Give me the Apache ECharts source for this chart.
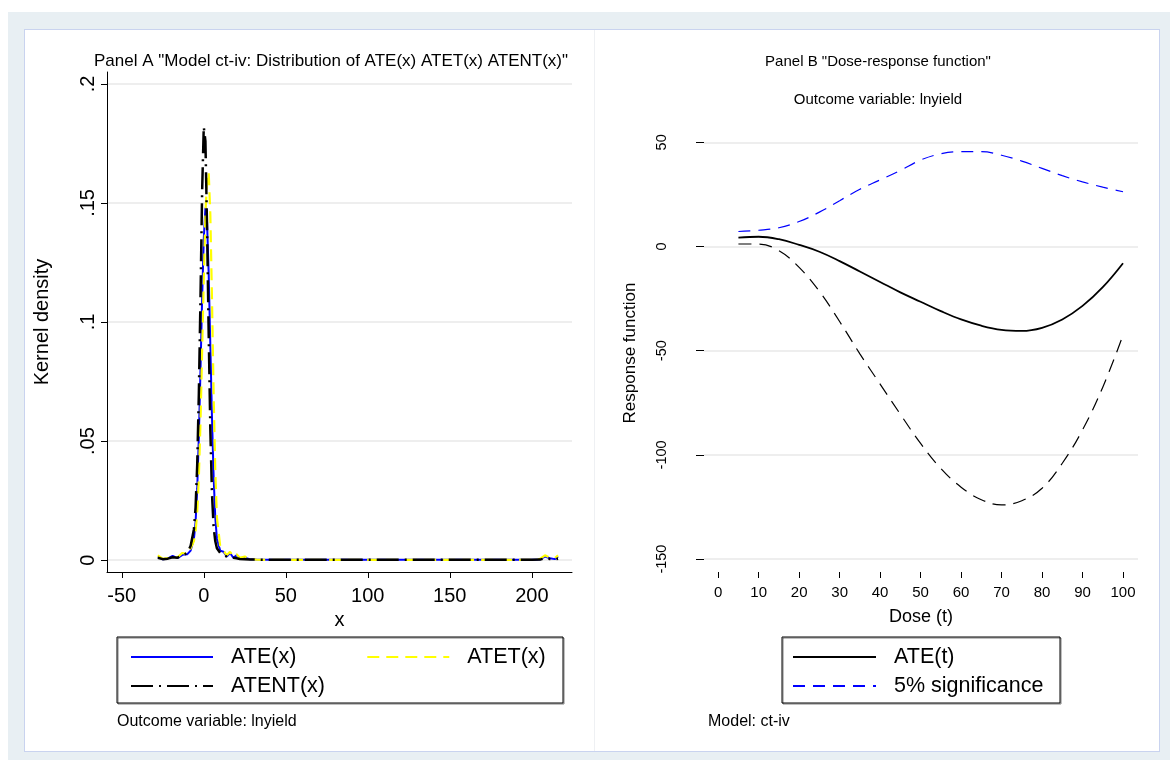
<!DOCTYPE html>
<html>
<head>
<meta charset="utf-8">
<script src="https://cdn.jsdelivr.net/npm/echarts@6/dist/echarts.min.js"></script>
<style>
  body { margin: 0; background: #ffffff; }
  #outer { position: absolute; left: 8px; top: 12px; width: 1162px; height: 748px; background: #e8eff3; }
  #panel { position: absolute; left: 24px; top: 29px; width: 1134px; height: 721px; background: #ffffff; border: 1px solid #c9d3ef; }
  #divider { position: absolute; left: 594px; top: 30px; width: 1px; height: 721px; background: #eef0f3; }
  #main { position: absolute; left: 0; top: 0; width: 1170px; height: 760px; }
</style>
</head>
<body>
<div id="outer"></div>
<div id="panel"></div>
<div id="divider"></div>
<div id="main"></div>
<script>
// Panel A: kernel densities
var densX = [-28, -25, -22, -19, -16, -13, -10, -8, -6, -5, -4, -3, -2, -1, 0, 1, 2, 3, 4, 5, 6, 7, 8, 10, 12, 14, 16, 18, 20, 22, 25, 28, 32, 40, 60, 80, 100, 120, 140, 160, 180, 200, 205, 208, 211, 214, 216];
var ateDens = [0.0015, 0.0003, 0.0006, 0.0018, 0.0008, 0.0022, 0.0025, 0.004, 0.009, 0.016, 0.03, 0.052, 0.08, 0.11, 0.135, 0.148, 0.142, 0.12, 0.09, 0.06, 0.035, 0.018, 0.009, 0.004, 0.0035, 0.0015, 0.003, 0.001, 0.002, 0.0008, 0.001, 0.0004, 0.0002, 0.0001, 0.0001, 0.0001, 0.0001, 0.0001, 0.0001, 0.0001, 0.0001, 0.0001, 0.0003, 0.0015, 0.0008, 0.0004, 0.0015];
var atetDens = [0.002, 0.0005, 0.0008, 0.001, 0.0012, 0.003, 0.0025, 0.005, 0.008, 0.012, 0.02, 0.035, 0.058, 0.088, 0.118, 0.145, 0.16, 0.163, 0.145, 0.11, 0.07, 0.038, 0.018, 0.006, 0.004, 0.002, 0.0035, 0.0015, 0.0025, 0.001, 0.0015, 0.0005, 0.0002, 0.0001, 0.0001, 0.0001, 0.0001, 0.0001, 0.0001, 0.0001, 0.0001, 0.0001, 0.0005, 0.002, 0.001, 0.0008, 0.002];
var atentDens = [0.001, 0.0004, 0.0006, 0.0012, 0.001, 0.002, 0.003, 0.006, 0.013, 0.022, 0.04, 0.07, 0.11, 0.155, 0.182, 0.176, 0.14, 0.095, 0.055, 0.028, 0.014, 0.008, 0.005, 0.003, 0.002, 0.0015, 0.001, 0.001, 0.0008, 0.0005, 0.0004, 0.0003, 0.0002, 0.0001, 0.0001, 0.0001, 0.0001, 0.0001, 0.0001, 0.0001, 0.0001, 0.0001, 0.0002, 0.0008, 0.0005, 0.0003, 0.0006];
var densTicksX = [-50, 0, 50, 100, 150, 200];
var densTicksY = [0, 0.05, 0.1, 0.15, 0.2];

// Panel B: dose-response function
var dose = [5, 10, 15, 20, 25, 30, 35, 40, 45, 50, 55, 60, 65, 70, 75, 80, 85, 90, 95, 100];
var ateT = [4.3, 4.7, 3.5, 0.8, -2.5, -7, -12, -17, -22, -26.5, -31, -35, -38, -40, -40.5, -39, -35, -28.5, -19.5, -8];
var upperT = [7.2, 7.8, 9, 12, 16.5, 22, 27.5, 32, 36.5, 41.5, 44.5, 45.5, 45.5, 43.8, 41, 37.5, 34, 31, 28.5, 26.3];
var lowerT = [1.2, 1.2, -2, -10, -21.5, -36, -51.5, -66, -80.5, -94.5, -106.5, -115.5, -121.5, -124, -122, -116, -104, -88, -67.5, -42.5];
var doseTicks = [0, 10, 20, 30, 40, 50, 60, 70, 80, 90, 100];
var respTicks = [-150, -100, -50, 0, 50];

var font = "Liberation Sans, Arial, sans-serif";

function pairs(xs, ys) {
  return xs.map(function (x, i) { return [x, ys[i]]; });
}

var legendText = { fontSize: 21.5, color: "#000", lineHeight: 24, padding: [0, 0, 0, 13] };
var noSymbol = { opacity: 0 };

var myChart = echarts.init(document.getElementById("main"));

myChart.setOption({
  animation: false,
  backgroundColor: "transparent",
  textStyle: { fontFamily: font, color: "#000" },
  title: [
    {
      text: 'Panel A "Model ct-iv: Distribution of ATE(x) ATET(x) ATENT(x)"',
      left: 331, top: 53, textAlign: "center", padding: 0,
      textStyle: { fontSize: 17, fontWeight: "normal", color: "#000" },
    },
    {
      text: 'Panel B "Dose-response function"',
      left: 878, top: 54, textAlign: "center", padding: 0,
      textStyle: { fontSize: 15, fontWeight: "normal", color: "#000" },
    },
    {
      text: "Outcome variable: lnyield",
      left: 878, top: 92, textAlign: "center", padding: 0,
      textStyle: { fontSize: 15, fontWeight: "normal", color: "#000" },
    },
  ],
  grid: [
    { left: 107, top: 72, width: 465, height: 500 },
    { left: 704, top: 134, width: 434, height: 438 },
  ],
  xAxis: [
    {
      gridIndex: 0, type: "value", min: -59, max: 224.5,
      name: "x", nameLocation: "middle", nameGap: 33,
      nameTextStyle: { fontSize: 20, color: "#000" },
      axisLine: { onZero: false, lineStyle: { color: "#000", width: 1 } },
      axisTick: { customValues: densTicksX, length: 6, lineStyle: { color: "#000" } },
      axisLabel: { customValues: densTicksX, fontSize: 20, color: "#000", margin: 14 },
      splitLine: { show: false },
    },
    {
      gridIndex: 1, type: "value", min: -3.5, max: 103.7,
      name: "Dose (t)", nameLocation: "middle", nameGap: 36,
      nameTextStyle: { fontSize: 18, color: "#000" },
      axisLine: { show: false, onZero: false },
      axisTick: { customValues: doseTicks, length: 6, lineStyle: { color: "#000" } },
      axisLabel: { customValues: doseTicks, fontSize: 15, color: "#000", margin: 13 },
      splitLine: { show: false },
    },
  ],
  yAxis: [
    {
      gridIndex: 0, type: "value", min: -0.005, max: 0.205,
      name: "Kernel density", nameLocation: "middle", nameGap: 55, nameRotate: 90,
      nameTextStyle: { fontSize: 20, color: "#000" },
      axisLine: { show: true, onZero: false, lineStyle: { color: "#000", width: 1 } },
      axisTick: { show: true, customValues: densTicksY, length: 6, lineStyle: { color: "#000" } },
      axisLabel: {
        customValues: densTicksY, fontSize: 20, color: "#000", rotate: 90, margin: 9,
        formatter: function (v) { return v === 0 ? "0" : String(v).replace(/^0/, ""); },
      },
      splitLine: { show: true, lineStyle: { color: "#e8e8e8", width: 1.5 } },
    },
    {
      gridIndex: 1, type: "value", min: -156.2, max: 54,
      name: "Response function", nameLocation: "middle", nameGap: 65, nameRotate: 90,
      nameTextStyle: { fontSize: 17, color: "#000" },
      axisLine: { show: false, onZero: false },
      axisTick: { show: true, customValues: respTicks, length: 8, lineStyle: { color: "#000" } },
      axisLabel: { customValues: respTicks, fontSize: 14.5, color: "#000", rotate: 90, margin: 35 },
      splitLine: { show: true, lineStyle: { color: "#e8e8e8", width: 1.5 } },
    },
  ],
  legend: [
    {
      data: ["ATE(x)", "ATET(x)"], left: 130, top: 645, orient: "horizontal",
      itemWidth: 82, itemHeight: 14, itemGap: 70, padding: 0, selectedMode: false,
      itemStyle: noSymbol, textStyle: legendText,
    },
    {
      data: ["ATENT(x)"], left: 130, top: 674, orient: "horizontal",
      itemWidth: 82, itemHeight: 14, padding: 0, selectedMode: false,
      itemStyle: noSymbol, textStyle: legendText,
    },
    {
      data: ["ATE(t)", "5% significance"], left: 792, top: 645, orient: "vertical",
      itemWidth: 83, itemHeight: 14, itemGap: 5, padding: 0, selectedMode: false,
      itemStyle: noSymbol, textStyle: legendText,
    },
  ],
  graphic: [
    {
      type: "rect", shape: { x: 117, y: 637, width: 446, height: 66 },
      style: { fill: "none", stroke: "#000", lineWidth: 1, shadowColor: "rgba(0,0,0,0.5)", shadowOffsetX: 1, shadowOffsetY: 1 },
      z: 0,
    },
    {
      type: "rect", shape: { x: 782, y: 637, width: 278, height: 66 },
      style: { fill: "none", stroke: "#000", lineWidth: 1, shadowColor: "rgba(0,0,0,0.5)", shadowOffsetX: 1, shadowOffsetY: 1 },
      z: 0,
    },
    {
      type: "text", left: 117, top: 714,
      style: { text: "Outcome variable: lnyield", font: "16px " + font, fill: "#000" },
    },
    {
      type: "text", left: 708, top: 714,
      style: { text: "Model: ct-iv", font: "16px " + font, fill: "#000" },
    },
  ],
  series: [
    {
      name: "ATE(x)", type: "line", xAxisIndex: 0, yAxisIndex: 0,
      data: pairs(densX, ateDens), symbol: "none",
      lineStyle: { color: "#0000ff", width: 2 }, itemStyle: { color: "#0000ff" },
    },
    {
      name: "ATET(x)", type: "line", xAxisIndex: 0, yAxisIndex: 0,
      data: pairs(densX, atetDens), symbol: "none",
      lineStyle: { color: "#ffff00", width: 2.2, type: [12, 7] }, itemStyle: { color: "#ffff00" },
    },
    {
      name: "ATENT(x)", type: "line", xAxisIndex: 0, yAxisIndex: 0,
      data: pairs(densX, atentDens), symbol: "none",
      lineStyle: { color: "#000", width: 2.5, type: [22, 6, 2, 6] }, itemStyle: { color: "#000" },
    },
    {
      name: "ATE(t)", type: "line", xAxisIndex: 1, yAxisIndex: 1,
      data: pairs(dose, ateT), symbol: "none", smooth: 0.4,
      lineStyle: { color: "#000", width: 1.8 }, itemStyle: { color: "#000" },
    },
    {
      name: "5% significance", type: "line", xAxisIndex: 1, yAxisIndex: 1,
      data: pairs(dose, upperT), symbol: "none", smooth: 0.4,
      lineStyle: { color: "#0000ff", width: 1.2, type: [12, 8] }, itemStyle: { color: "#0000ff" },
    },
    {
      name: "lower bound", type: "line", xAxisIndex: 1, yAxisIndex: 1,
      data: pairs(dose, lowerT), symbol: "none", smooth: 0.4,
      lineStyle: { color: "#000", width: 1.2, type: [13, 8] }, itemStyle: { color: "#000" },
    },
  ],
});
</script>
</body>
</html>
